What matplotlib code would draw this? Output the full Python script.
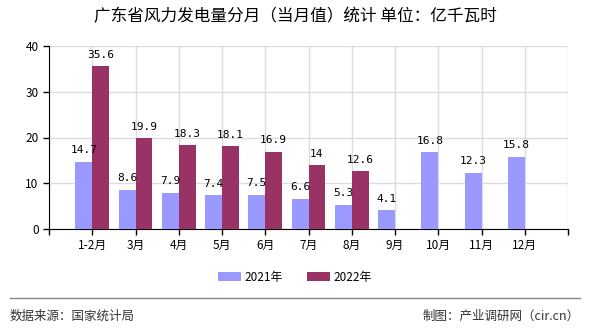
import matplotlib
matplotlib.use("Agg")
import matplotlib.pyplot as plt
from matplotlib.patches import Patch
from matplotlib.lines import Line2D
import numpy as np

plt.rcParams['font.family'] = ['Noto Sans CJK SC', 'DejaVu Sans']

categories = ['1-2月', '3月', '4月', '5月', '6月', '7月', '8月', '9月', '10月', '11月', '12月']
values_2021 = [14.7, 8.6, 7.9, 7.4, 7.5, 6.6, 5.3, 4.1, 16.8, 12.3, 15.8]
values_2022 = [35.6, 19.9, 18.3, 18.1, 16.9, 14, 12.6, None, None, None, None]
series_names = ['2021年', '2022年']
colors = ['#9999FF', '#993366']
title = '广东省风力发电量分月（当月值）统计 单位：亿千瓦时'

fig = plt.figure(figsize=(5.9, 3.3), dpi=100)
ax = fig.add_axes([49/590, 101/330, 519/590, 183/330])

x = np.arange(len(categories))
w = 0.39

def fmt(v):
    return ('%g' % v)

for i, v in enumerate(values_2021):
    ax.bar(x[i] - w, v, width=w, align='edge', color=colors[0], zorder=3)
    ax.text(x[i] - w/2, v + 1.4, fmt(v), ha='center', va='bottom',
            fontsize=8, family='DejaVu Sans Mono', zorder=4)
for i, v in enumerate(values_2022):
    if v is None:
        continue
    ax.bar(x[i], v, width=w, align='edge', color=colors[1], zorder=3)
    ax.text(x[i] + w/2, v + 1.4, fmt(v), ha='center', va='bottom',
            fontsize=8, family='DejaVu Sans Mono', zorder=4)

ax.set_xlim(-1, len(categories))
ax.set_ylim(0, 40)
ax.set_yticks([0, 10, 20, 30, 40])
ax.set_xticks(list(range(-1, len(categories) + 1)))
ax.set_xticklabels([''] + categories + [''])
ax.tick_params(axis='both', labelsize=8.5, length=4, width=1, color='black', direction='out')
ax.grid(True, color='#DCDCDC', linewidth=1, zorder=0)
for s in ['top', 'right']:
    ax.spines[s].set_visible(False)
ax.spines['left'].set_color('black')
ax.spines['bottom'].set_color('black')

fig.text(0.5, 1 - 17/330, title, ha='center', va='center', fontsize=12)

handles = [Patch(facecolor=colors[0]), Patch(facecolor=colors[1])]
fig.legend(handles, series_names, loc='center', bbox_to_anchor=(0.5, 1 - 277/330),
           ncol=2, frameon=False, fontsize=8.5, handlelength=2.0, handleheight=0.8,
           handletextpad=0.3, columnspacing=2.0)

fig.add_artist(Line2D([10/590, 580/590], [1 - 298/330, 1 - 298/330], color='#888888', linewidth=1))
fig.text(10/590, 1 - 316/330, '数据来源：国家统计局', ha='left', va='center', fontsize=9, color='#333333')
fig.text(580/590, 1 - 316/330, '制图：产业调研网（cir.cn）', ha='right', va='center', fontsize=9, color='#333333')

fig.savefig('out.png', dpi=100)
